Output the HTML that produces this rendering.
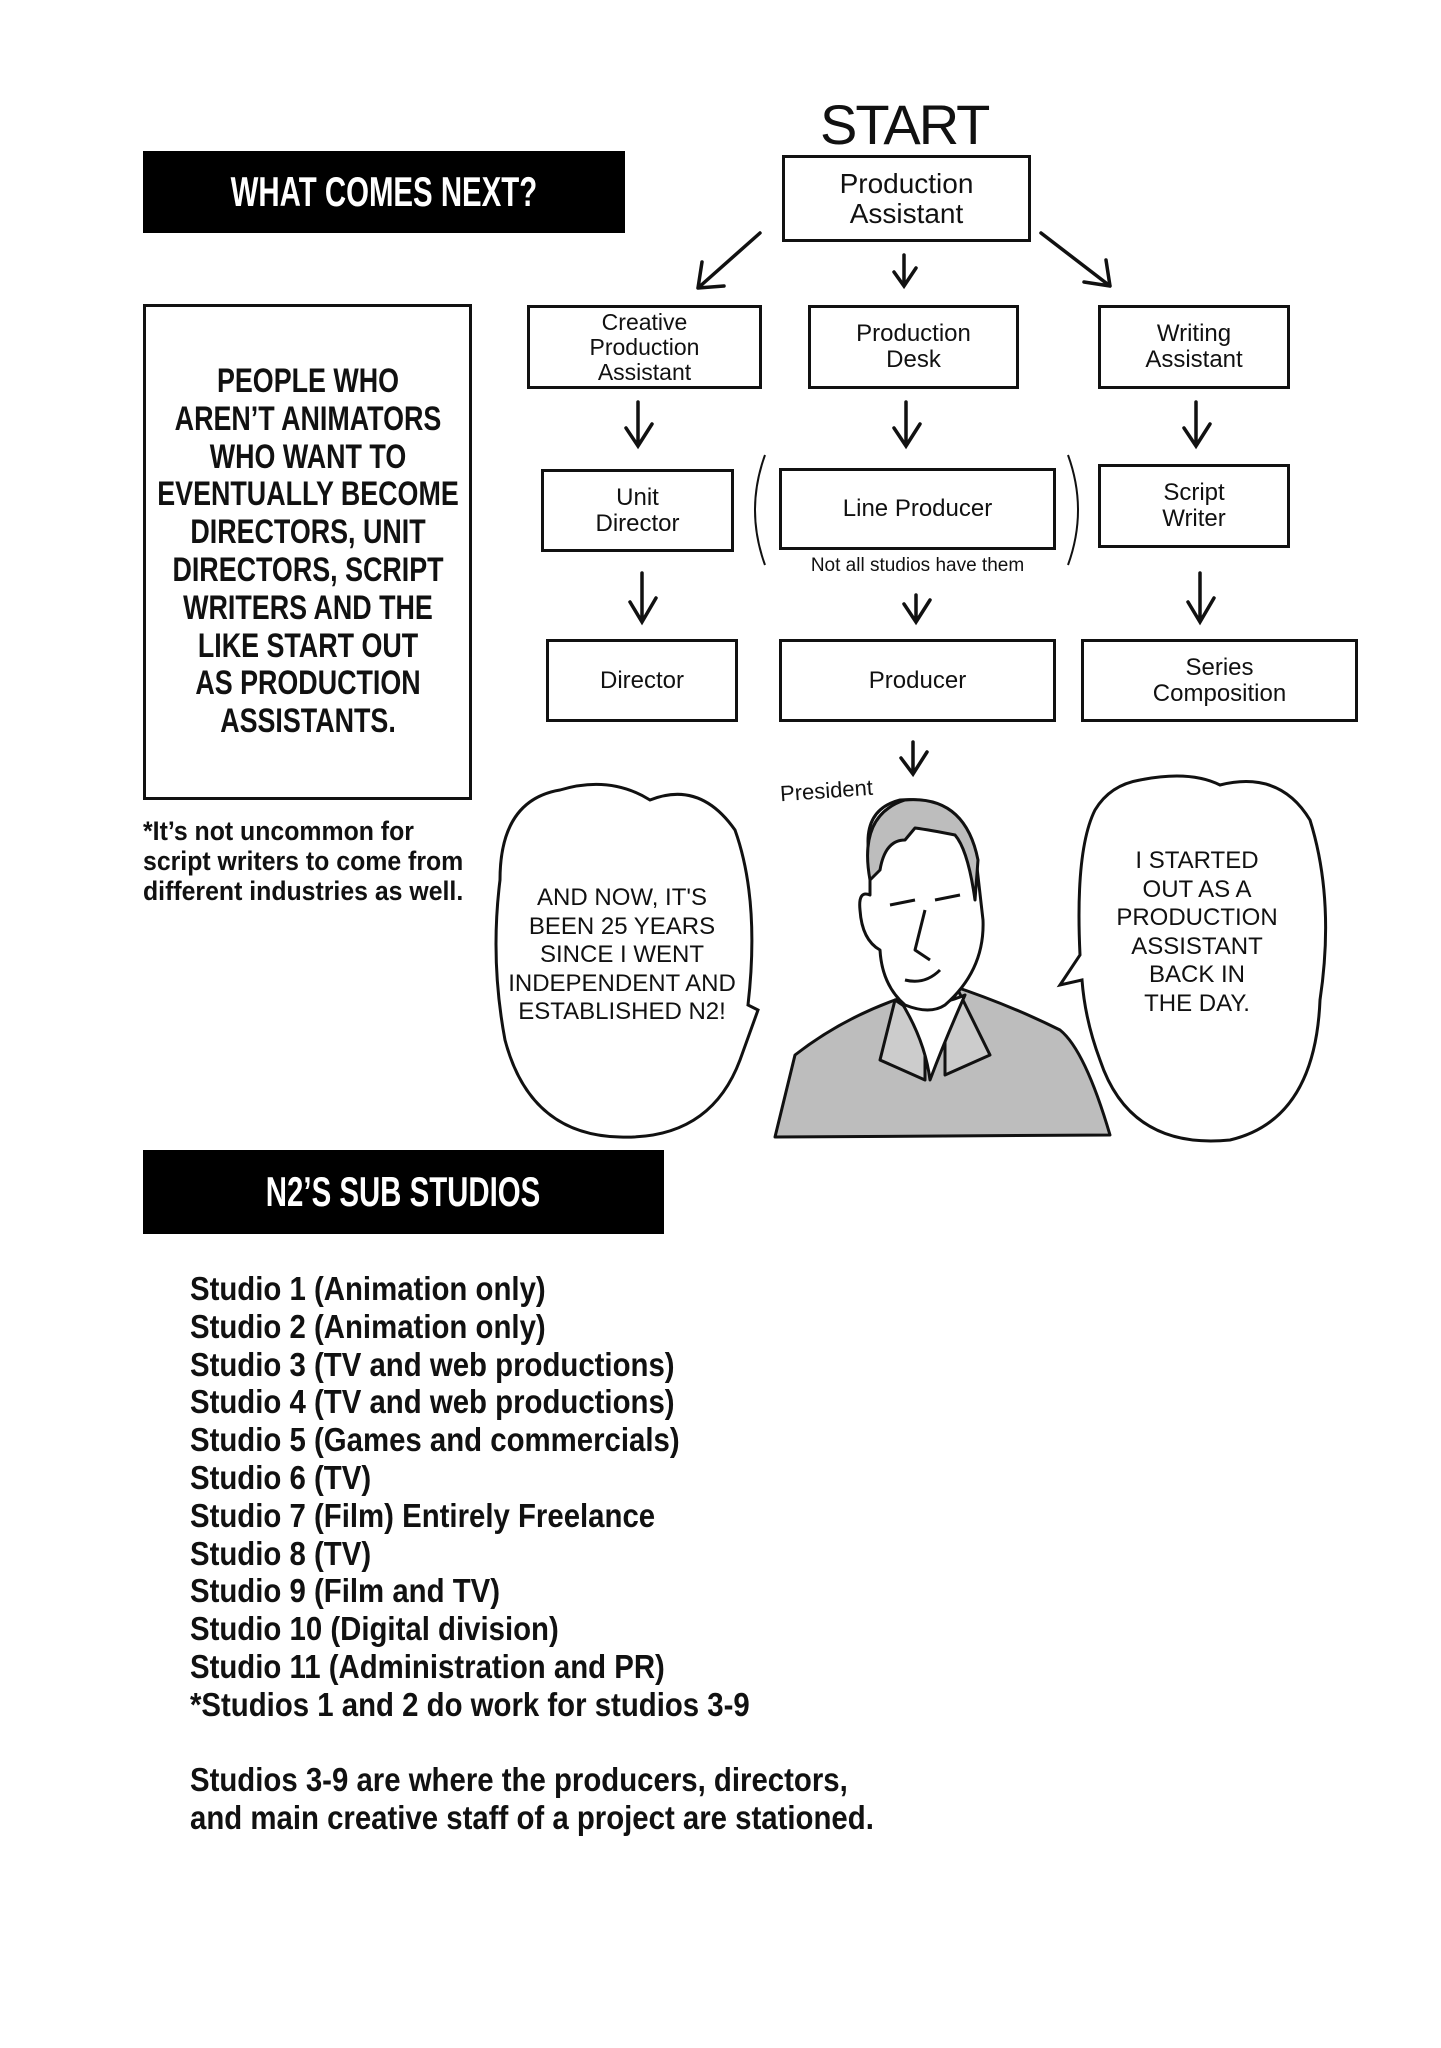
<!DOCTYPE html>
<html><head><meta charset="utf-8"><style>
body{margin:0;background:#fff;}
#p{position:relative;width:1441px;height:2048px;overflow:hidden;background:#fff;font-family:"Liberation Sans",sans-serif;color:#111;}
.a{position:absolute;}
.hdr{background:#000;color:#fff;font-weight:bold;font-size:42px;display:flex;align-items:center;justify-content:center;}
.hdr span{display:inline-block;transform:scaleX(0.7);white-space:nowrap;}
.bx{border:3px solid #111;box-sizing:border-box;display:flex;align-items:center;justify-content:center;text-align:center;font-size:24px;line-height:26px;background:#fff;}
.cond{font-weight:bold;white-space:nowrap;}
.bub{font-size:24px;line-height:28.5px;text-align:center;}
</style></head><body><div id="p">
<div class="a hdr" style="left:143px;top:151px;width:482px;height:82px;"><span>WHAT COMES NEXT?</span></div>
<div class="a" style="left:820px;top:92px;font-size:56px;letter-spacing:-2px;">START</div>
<div class="a bx" style="left:782px;top:155px;width:249px;height:87px;font-size:28px;line-height:30px;">Production<br>Assistant</div>

<svg class="a" style="left:0;top:0" width="1441" height="1150">
<g stroke="#111" stroke-width="3.5" fill="none" stroke-linecap="round">
<path d="M760 233 L698 288 M698 288 L702 262 M698 288 L724 286"/>
<path d="M904 255 L904 284 M894 272 L904 286 L916 268"/>
<path d="M1041 233 L1110 286 M1110 286 L1106 260 M1110 286 L1084 282"/>
<path d="M638 402 L638 444 M626 428 L638 446 L652 424"/>
<path d="M906 402 L906 444 M894 428 L906 446 L920 424"/>
<path d="M1196 402 L1196 444 M1184 428 L1196 446 L1210 424"/>
<path d="M642 573 L642 620 M630 602 L642 622 L656 598"/>
<path d="M916 595 L916 620 M904 604 L916 622 L930 600"/>
<path d="M1200 573 L1200 620 M1188 602 L1200 622 L1214 598"/>
<path d="M913 742 L913 772 M901 758 L913 774 L927 752"/>
</g>
<g stroke="#111" stroke-width="2" fill="none">
<path d="M765 455 Q745 510 765 565"/>
<path d="M1068 455 Q1088 510 1068 565"/>
</g>
<g stroke="#111" stroke-width="3" fill="#fff">
<path d="M560 790 Q500 800 500 880 Q490 960 505 1040 Q530 1135 620 1137 Q710 1140 740 1060 L758 1010 L748 1005 Q760 900 735 830 Q700 780 650 800 Q610 775 560 790 Z"/>
<path d="M1140 780 Q1190 770 1220 785 Q1280 770 1310 820 Q1335 900 1320 1000 Q1315 1120 1230 1140 Q1130 1150 1100 1060 Q1085 1020 1082 980 L1060 985 L1080 955 Q1075 850 1095 810 Q1110 785 1140 780 Z"/>
</g>
<g stroke="#111" stroke-width="3" stroke-linejoin="round">
<path d="M775 1137 L795 1055 Q840 1020 895 1000 L950 985 Q1010 1005 1060 1030 Q1085 1050 1110 1135 Z" fill="#bdbdbd"/>
<path d="M895 1000 L880 1060 L925 1080 L925 1020 Z M958 990 L990 1055 L945 1075 L945 1015 Z" fill="#ccc"/>
<path d="M900 1000 Q925 1040 930 1080 Q945 1040 965 995 Q930 1010 900 1000 Z" fill="#fff"/>
<path d="M870 860 Q860 810 900 800 Q960 795 975 850 L983 920 Q985 970 945 1005 Q930 1015 905 1005 Q882 985 880 950 Q862 940 860 910 Q858 890 870 895 Z" fill="#fff"/>
<path d="M870 880 Q858 815 905 800 Q965 795 978 860 L975 900 Q968 850 955 835 Q930 830 915 828 L905 840 Q885 840 880 870 Z" fill="#bdbdbd"/>
<path d="M925 910 L915 950 L930 960 M905 980 Q925 985 940 970" fill="none"/>
<path d="M890 905 L915 900 M935 900 L960 895" fill="none"/>
</g>
</svg>

<div class="a bx" style="left:527px;top:305px;width:235px;height:84px;font-size:23px;line-height:25px;">Creative<br>Production<br>Assistant</div>
<div class="a bx" style="left:808px;top:305px;width:211px;height:84px;">Production<br>Desk</div>
<div class="a bx" style="left:1098px;top:305px;width:192px;height:84px;">Writing<br>Assistant</div>
<div class="a bx" style="left:541px;top:469px;width:193px;height:83px;">Unit<br>Director</div>
<div class="a bx" style="left:779px;top:468px;width:277px;height:82px;">Line Producer</div>
<div class="a bx" style="left:1098px;top:464px;width:192px;height:84px;">Script<br>Writer</div>
<div class="a" style="left:779px;top:555px;width:277px;text-align:center;font-size:19px;">Not all studios have them</div>
<div class="a bx" style="left:546px;top:639px;width:192px;height:83px;">Director</div>
<div class="a bx" style="left:779px;top:639px;width:277px;height:83px;">Producer</div>
<div class="a bx" style="left:1081px;top:639px;width:277px;height:83px;">Series<br>Composition</div>
<div class="a" style="left:780px;top:778px;font-size:22px;transform:rotate(-4deg);">President</div>

<div class="a" style="left:143px;top:304px;width:329px;height:496px;border:3px solid #111;box-sizing:border-box;"></div>
<div class="a cond" style="left:88px;top:363px;width:440px;text-align:center;font-size:34px;line-height:37.8px;transform:scaleX(0.79);">PEOPLE WHO<br>AREN’T ANIMATORS<br>WHO WANT TO<br>EVENTUALLY BECOME<br>DIRECTORS, UNIT<br>DIRECTORS, SCRIPT<br>WRITERS AND THE<br>LIKE START OUT<br>AS PRODUCTION<br>ASSISTANTS.</div>
<div class="a cond" style="left:143px;top:816px;font-size:27px;line-height:30px;transform:scaleX(0.92);transform-origin:left top;">*It’s not uncommon for<br>script writers to come from<br>different industries as well.</div>

<div class="a bub" style="left:493px;top:884px;width:258px;">AND NOW, IT'S<br>BEEN 25 YEARS<br>SINCE I WENT<br>INDEPENDENT AND<br>ESTABLISHED N2!</div>
<div class="a bub" style="left:1072px;top:847px;width:250px;">I STARTED<br>OUT AS A<br>PRODUCTION<br>ASSISTANT<br>BACK IN<br>THE DAY.</div>

<div class="a hdr" style="left:143px;top:1150px;width:521px;height:84px;"><span>N2’S SUB STUDIOS</span></div>
<div class="a cond" style="left:190px;top:1270px;font-size:33px;line-height:37.8px;transform:scaleX(0.89);transform-origin:left top;">Studio 1 (Animation only)<br>Studio 2 (Animation only)<br>Studio 3 (TV and web productions)<br>Studio 4 (TV and web productions)<br>Studio 5 (Games and commercials)<br>Studio 6 (TV)<br>Studio 7 (Film) Entirely Freelance<br>Studio 8 (TV)<br>Studio 9 (Film and TV)<br>Studio 10 (Digital division)<br>Studio 11 (Administration and PR)<br>*Studios 1 and 2 do work for studios 3-9<br><br>Studios 3-9 are where the producers, directors,<br>and main creative staff of a project are stationed.</div>
</div></body></html>
